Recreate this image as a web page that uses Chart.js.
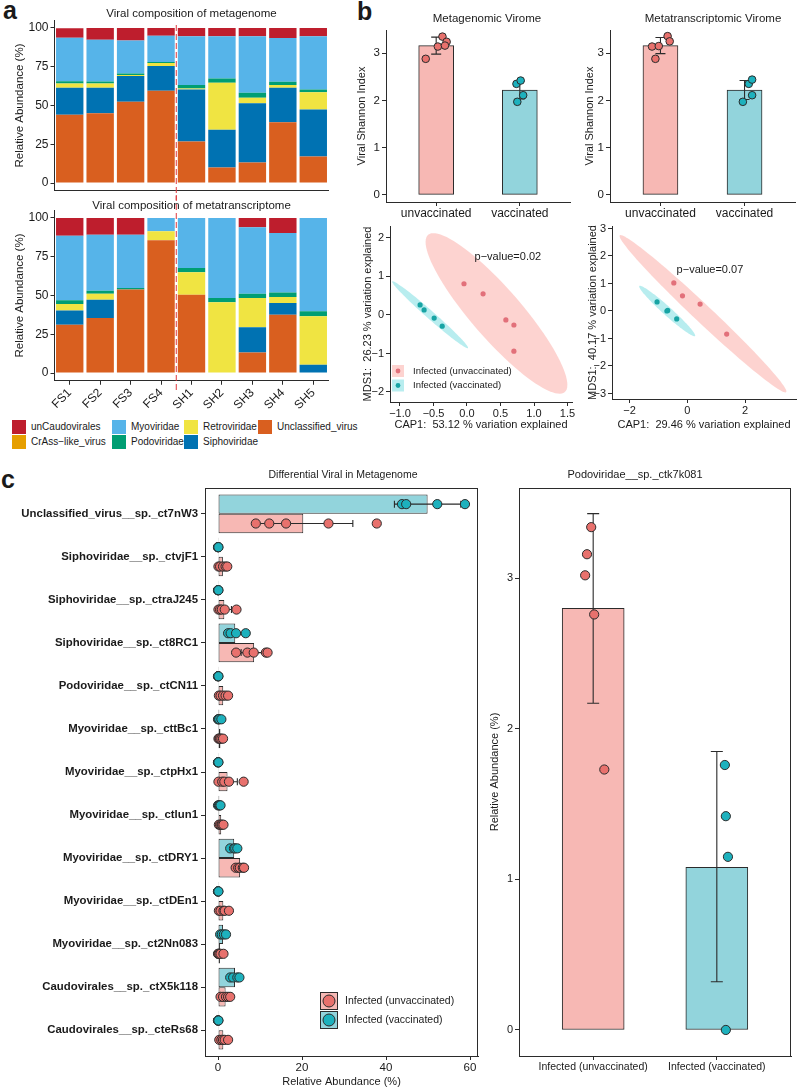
<!DOCTYPE html>
<html>
<head>
<meta charset="utf-8">
<title>Viral composition and diversity</title>
<script src="https://cdn.jsdelivr.net/npm/chart.js@4.4.0/dist/chart.umd.min.js"></script>
<style>
  html, body { margin: 0; padding: 0; background: #fff; }
  body { position: relative; width: 800px; height: 1089px; overflow: hidden;
         font-family: "Liberation Sans", Arial, sans-serif; color: #1a1a1a; }
  .tag { position: absolute; font-weight: bold; font-size: 25px; line-height: 1; }
  .sw { position: absolute; width: 14px; height: 14px; }
  .lt { position: absolute; font-size: 10px; line-height: 14px; white-space: nowrap; }
</style>
</head>
<body>
<div class="tag" style="left:3px;top:-2px">a</div>
<div class="tag" style="left:357px;top:-1px">b</div>
<div class="tag" style="left:1px;top:467px">c</div>
<div id="legendA"></div>
<script>
// ---------- panel a: viral composition (%) ----------
const samples = ['FS1', 'FS2', 'FS3', 'FS4', 'SH1', 'SH2', 'SH3', 'SH4', 'SH5'];
const familyNames = ['unCaudovirales', 'CrAss\u2212like_virus', 'Myoviridae', 'Podoviridae',
                     'Retroviridae', 'Siphoviridae', 'Unclassified_virus'];
const familyColors = ['#BE1E2D', '#E69F00', '#56B4E9', '#009E73', '#F0E442', '#0072B2', '#D95F1F'];

const mgUnCaudovirales = [6.2, 7.5, 8, 5, 5.4, 5.4, 5.4, 6.4, 5.4];
const mgCrAss          = [0, 0, 0, 0, 0, 0, 0, 0, 0];
const mgMyoviridae     = [28, 27, 21.3, 17, 31.4, 27.1, 36.4, 28.3, 34.2];
const mgPodoviridae    = [1.5, 1.3, 1.1, 0.6, 2.3, 2.8, 3.2, 2.1, 1.9];
const mgRetroviridae   = [2.7, 2.7, 0.6, 1.9, 0.5, 30.4, 3.6, 1.7, 11];
const mgSiphoviridae   = [17.5, 16.5, 16.5, 16, 33.6, 24.3, 38.1, 22.3, 30.4];
const mgUnclassified   = [44, 45, 52.5, 59.5, 26.8, 10, 13.3, 39.2, 17.1];

const mtUnCaudovirales = [11.4, 10.8, 10.8, 0, 0, 0, 6, 9.7, 0];
const mtCrAss          = [0, 0, 0, 0, 0, 0, 0, 0, 0];
const mtMyoviridae     = [41.7, 36.1, 34.4, 8.6, 32.3, 51.6, 42.8, 38.3, 60.2];
const mtPodoviridae    = [2.4, 1.9, 1, 0, 2.7, 2.8, 2.8, 3, 3.2];
const mtRetroviridae   = [4.1, 3.9, 0, 5.8, 14.5, 45.6, 18.9, 3.8, 31.2];
const mtSiphoviridae   = [9.2, 11.8, 0, 0, 0, 0, 16.2, 7.6, 5.4];
const mtUnclassified   = [31.2, 35.5, 53.8, 85.6, 50.5, 0, 13.3, 37.6, 0];
const pctTicks = [0, 25, 50, 75, 100];

// ---------- panel b: Shannon index ----------
const shannonGroups = ['unvaccinated', 'vaccinated'];
const mgShannonMean = [3.16, 2.22];
const mgShannonSd = [0.18, 0.19];
const mgShannonUnvacc = [2.88, 3.14, 3.35, 3.24, 3.16];
const mgShannonVacc = [2.35, 2.42, 2.11, 1.97];
const mgJitterUnvacc = [-0.125, 0.02, 0.075, 0.125, 0.105];
const mgJitterVacc = [-0.04, 0.01, 0.04, -0.03];

const mtShannonMean = [3.16, 2.22];
const mtShannonSd = [0.17, 0.2];
const mtShannonUnvacc = [3.14, 3.15, 3.36, 3.25, 2.88];
const mtShannonVacc = [2.35, 2.44, 2.11, 1.97];
const mtJitterUnvacc = [-0.1, -0.02, 0.085, 0.11, -0.06];
const mtJitterVacc = [0.05, 0.09, 0.09, -0.02];
const shannonTicks = [0, 1, 2, 3];

// ---------- panel b: CAP ordination ----------
const capMgUnvaccX = [-0.045, 0.24, 0.58, 0.70, 0.70];
const capMgUnvaccY = [0.81, 0.55, -0.13, -0.26, -0.94];
const capMgVaccX = [-0.70, -0.64, -0.49, -0.37];
const capMgVaccY = [0.26, 0.13, -0.08, -0.29];
const capMtUnvaccX = [-0.47, -0.17, 0.44, 1.36];
const capMtUnvaccY = [1.02, 0.55, 0.25, -0.84];
const capMtVaccX = [-1.05, -0.71, -0.68, -0.37];
const capMtVaccY = [0.33, 0.0, 0.02, -0.29];
// confidence ellipses: centre x, centre y, semi-axis a (x, y), semi-axis b (x, y)
const ellMgUnvacc = [0.44, 0.04, 1.02, -2.04, 0.28, 0.43];
const ellMgVacc = [-0.55, 0.005, 0.565, -0.865, 0.039, 0.078];
const ellMtUnvacc = [0.54, -0.1, 2.88, -2.85, 0.207, 0.24];
const ellMtVacc = [-0.70, 0.0, 0.965, -0.91, 0.10, 0.12];
const capMgXTicks = [-1, -0.5, 0, 0.5, 1, 1.5];
const capMgYTicks = [-2, -1, 0, 1, 2];
const capMtXTicks = [-2, 0, 2];
const capMtYTicks = [-3, -2, -1, 0, 1, 2, 3];

// ---------- panel c: differential viruses (%) ----------
const viralLabels = ['Unclassified_virus__sp._ct7nW3', 'Siphoviridae__sp._ctvjF1', 'Siphoviridae__sp._ctraJ245',
  'Siphoviridae__sp._ct8RC1', 'Podoviridae__sp._ctCN11', 'Myoviridae__sp._cttBc1', 'Myoviridae__sp._ctpHx1',
  'Myoviridae__sp._ctlun1', 'Myoviridae__sp._ctDRY1', 'Myoviridae__sp._ctDEn1', 'Myoviridae__sp._ct2Nn083',
  'Caudovirales__sp._ctX5k118', 'Caudovirales__sp._cteRs68'];
const vaccMean = [49.9, 0.05, 0.05, 4.1, 0.05, 0.3, 0.05, 0.3, 3.85, 0.05, 1.2, 4.05, 0.05];
const vaccErrLo = [42.0, 0, 0, 2.3, 0, 0, 0, 0.05, 3.1, 0, 0.6, 3.1, 0];
const vaccErrHi = [57.8, 0.1, 0.1, 5.9, 0.1, 0.7, 0.1, 0.55, 4.6, 0.1, 1.8, 5.0, 0.1];
const vaccPoints = [[43.8, 44.8, 52.2, 58.8], [0, 0, 0.05, 0.1], [0, 0, 0.05, 0.1], [2.4, 3.0, 4.3, 6.6],
  [0, 0, 0.05, 0.1], [0, 0.1, 0.3, 0.8], [0, 0, 0.05, 0.1], [0, 0.2, 0.4, 0.6], [2.9, 3.8, 4.1, 4.6],
  [0, 0, 0.05, 0.1], [0.5, 0.9, 1.4, 1.9], [2.9, 3.6, 4.6, 5.1], [0, 0, 0.05, 0.1]];
const unvaccMean = [20.3, 1.16, 1.5, 8.6, 1.24, 0.58, 2.26, 0.76, 5.26, 1.26, 0.46, 1.8, 1.26];
const unvaccErrLo = [8.5, 0.4, 0, 5.5, 0.4, 0.15, 0, 0.3, 4.4, 0.3, 0, 1.0, 0.4];
const unvaccErrHi = [32.1, 1.9, 3.2, 11.8, 2.1, 1.0, 4.6, 1.2, 6.1, 2.2, 1.0, 2.6, 2.1];
const unvaccPoints = [[9.0, 12.2, 16.2, 26.3, 37.8], [0.1, 0.5, 1.2, 1.8, 2.2], [0.1, 0.5, 0.9, 1.6, 4.4],
  [4.3, 7.0, 8.5, 11.4, 11.8], [0.2, 0.6, 1.2, 1.8, 2.4], [0.1, 0.3, 0.5, 0.8, 1.2], [0.1, 1.0, 1.5, 2.6, 6.1],
  [0.2, 0.5, 0.8, 1.0, 1.3], [4.2, 4.8, 5.2, 5.9, 6.2], [0.2, 0.6, 1.3, 1.6, 2.6], [0, 0.1, 0.3, 0.6, 1.3],
  [0.6, 1.2, 1.9, 2.4, 2.9], [0.3, 0.8, 1.2, 1.6, 2.4]];
const abundTicks = [0, 20, 40, 60];

const infectedGroups = ['Infected (unvaccinated)', 'Infected (vaccinated)'];
const podoMean = [2.80, 1.08];
const podoErrLo = [2.17, 0.32];
const podoErrHi = [3.43, 1.85];
const podoUnvacc = [3.34, 3.16, 3.02, 2.76, 1.73];
const podoVacc = [1.76, 1.42, 1.15, 0];
const podoJitterUnvacc = [-0.016, -0.05, -0.065, 0.008, 0.09];
const podoJitterVacc = [0.065, 0.073, 0.09, 0.073];
const podoTicks = [0, 1, 2, 3];

// ---------- styling ----------
const FONT = '"Liberation Sans", Arial, Helvetica, sans-serif';
const INK = '#1a1a1a';
const LINE = '#2b2b2b';
const pinkFill = '#F7B8B4', cyanFill = '#92D4DC';
const pinkDot = '#E8716D', cyanDot = '#1DB1BD';
const pinkPt = '#E2707A', cyanPt = '#17A4A4';
const pinkEll = 'rgba(248,118,109,0.32)', cyanEll = 'rgba(0,191,196,0.28)';
Chart.defaults.font.family = FONT;
Chart.defaults.color = INK;
const minus = s => String(s).replace('-', '\u2212');

// ---------- small plugins ----------
const panelTitle = {
  id: 'panelTitle',
  afterDraw(chart, args, o) {
    if (!o.text) return;
    const { ctx, chartArea } = chart;
    ctx.save();
    ctx.font = (o.size || 11.5) + 'px ' + FONT;
    ctx.fillStyle = INK;
    ctx.textAlign = 'center';
    ctx.textBaseline = 'middle';
    const x = o.x != null ? o.x : (chartArea.left + chartArea.right) / 2;
    ctx.fillText(o.text, x, o.y);
    ctx.restore();
  }
};

const sepLine = {
  id: 'sepLine',
  afterDraw(chart, args, o) {
    if (o.top == null) return;
    const xs = chart.scales.x, ctx = chart.ctx;
    const x = (xs.getPixelForValue(3) + xs.getPixelForValue(4)) / 2;
    ctx.save();
    ctx.strokeStyle = '#E0393E';
    ctx.lineWidth = 1;
    ctx.setLineDash([6, 3]);
    ctx.beginPath();
    ctx.moveTo(x, o.top);
    ctx.lineTo(x, o.bottom);
    ctx.stroke();
    ctx.restore();
  }
};

function drawErrorBars(chart, o) {
  if (!o || !o.items) return;
  const { ctx } = chart, xs = chart.scales.x, ys = chart.scales.y;
  ctx.save();
  ctx.strokeStyle = LINE;
  ctx.lineWidth = 1.1;
  o.items.forEach(e => {
    ctx.beginPath();
    if (o.horizontal) {
      const y = ys.getPixelForValue(e.pos), x1 = xs.getPixelForValue(e.lo), x2 = xs.getPixelForValue(e.hi);
      ctx.moveTo(x1, y); ctx.lineTo(x2, y);
      ctx.moveTo(x1, y - o.cap); ctx.lineTo(x1, y + o.cap);
      ctx.moveTo(x2, y - o.cap); ctx.lineTo(x2, y + o.cap);
    } else {
      const x = xs.getPixelForValue(e.pos), y1 = ys.getPixelForValue(e.lo), y2 = ys.getPixelForValue(e.hi);
      ctx.moveTo(x, y1); ctx.lineTo(x, y2);
      ctx.moveTo(x - o.cap, y1); ctx.lineTo(x + o.cap, y1);
      ctx.moveTo(x - o.cap, y2); ctx.lineTo(x + o.cap, y2);
    }
    ctx.stroke();
  });
  ctx.restore();
}

const errorBars = {
  id: 'errorBars',
  beforeDatasetsDraw(chart) { chart.$errDrawn = false; },
  beforeDatasetDraw(chart, args, o) {
    if (!chart.$errDrawn && args.meta.type === 'scatter') {
      drawErrorBars(chart, o);
      chart.$errDrawn = true;
    }
  },
  afterDatasetsDraw(chart, args, o) {
    if (!chart.$errDrawn) drawErrorBars(chart, o);
  }
};

const ellipses = {
  id: 'ellipses',
  beforeDatasetsDraw(chart, args, o) {
    if (!o.items) return;
    const { ctx, chartArea: ca } = chart, xs = chart.scales.x, ys = chart.scales.y;
    ctx.save();
    ctx.beginPath();
    ctx.rect(ca.left, ca.top, ca.width, ca.height);
    ctx.clip();
    o.items.forEach(it => {
      const e = it.e;
      ctx.beginPath();
      for (let i = 0; i <= 96; i++) {
        const t = i / 96 * Math.PI * 2;
        const vx = e[0] + e[2] * Math.cos(t) + e[4] * Math.sin(t);
        const vy = e[1] + e[3] * Math.cos(t) + e[5] * Math.sin(t);
        const px = xs.getPixelForValue(vx), py = ys.getPixelForValue(vy);
        if (i === 0) ctx.moveTo(px, py); else ctx.lineTo(px, py);
      }
      ctx.closePath();
      ctx.fillStyle = it.color;
      ctx.fill();
    });
    ctx.restore();
  }
};

const notes = {
  id: 'notes',
  afterDatasetsDraw(chart, args, o) {
    if (!o.items) return;
    const { ctx } = chart, xs = chart.scales.x, ys = chart.scales.y;
    ctx.save();
    ctx.font = '11px ' + FONT;
    ctx.fillStyle = INK;
    ctx.textAlign = 'center';
    ctx.textBaseline = 'middle';
    o.items.forEach(n => ctx.fillText(n.text, xs.getPixelForValue(n.x), ys.getPixelForValue(n.y)));
    ctx.restore();
  }
};

const keyLegend = {
  id: 'keyLegend',
  afterDraw(chart, args, o) {
    if (!o.items) return;
    const ctx = chart.ctx;
    ctx.save();
    o.items.forEach((it, i) => {
      const y = o.y + i * o.step;
      ctx.fillStyle = it.fill;
      ctx.fillRect(o.x, y - o.size / 2, o.size, o.size);
      if (o.border) {
        ctx.strokeStyle = LINE; ctx.lineWidth = 1;
        ctx.strokeRect(o.x + 0.5, y - o.size / 2 + 0.5, o.size - 1, o.size - 1);
      }
      ctx.beginPath();
      ctx.arc(o.x + o.size / 2, y, o.r, 0, Math.PI * 2);
      ctx.fillStyle = it.dot;
      ctx.fill();
      if (o.border) { ctx.strokeStyle = LINE; ctx.stroke(); }
      ctx.fillStyle = INK;
      ctx.font = o.font + 'px ' + FONT;
      ctx.textAlign = 'left';
      ctx.textBaseline = 'middle';
      ctx.fillText(it.text, o.x + o.size + o.gap, y);
    });
    ctx.restore();
  }
};

const boxFrame = {
  id: 'boxFrame',
  afterDraw(chart, args, o) {
    if (!o.on) return;
    const { ctx, chartArea: ca } = chart;
    ctx.save();
    ctx.strokeStyle = LINE;
    ctx.lineWidth = 1;
    ctx.strokeRect(Math.round(ca.left) + 0.5, Math.round(ca.top) + 0.5,
                   Math.round(ca.width) - 1, Math.round(ca.height));
    ctx.restore();
  }
};

const allPlugins = [panelTitle, sepLine, errorBars, ellipses, notes, keyLegend, boxFrame];

// ---------- helpers ----------
function place(left, top, w, h) {
  const c = document.createElement('canvas');
  c.width = w; c.height = h;
  c.style.cssText = `position:absolute;left:${left}px;top:${top}px;width:${w}px;height:${h}px;`;
  document.body.appendChild(c);
  return c;
}

function axis(o) {
  const s = {
    type: o.type || 'linear',
    reverse: !!o.reverse,
    stacked: !!o.stacked,
    afterFit: sc => { if (sc.isHorizontal()) sc.height = o.fit; else sc.width = o.fit; },
    border: { display: true, color: LINE, width: 1 },
    grid: { display: o.ticks !== false, drawOnChartArea: false, drawTicks: true, tickLength: 4,
            tickColor: LINE, offset: false },
    ticks: { display: o.ticks !== false, color: INK, autoSkip: false,
             font: { family: FONT, size: o.font || 11, weight: o.bold ? 'bold' : 'normal' },
             padding: o.pad != null ? o.pad : 2,
             maxRotation: o.rot || 0, minRotation: o.rot || 0 }
  };
  // linear scales must not get the bar chart's half-step offset
  if (s.type === 'linear') s.offset = false;
  if (o.min != null) s.min = o.min;
  if (o.max != null) s.max = o.max;
  if (o.values) s.afterBuildTicks = sc => { sc.ticks = o.values.map(v => ({ value: v })); };
  if (o.fmt) s.ticks.callback = o.fmt;
  if (o.title) s.title = { display: true, text: o.title, color: INK,
                           font: { family: FONT, size: o.titleSize || 11 }, padding: o.titlePad };
  return s;
}

function baseOptions(padding, plugins, scales) {
  return {
    responsive: false, animation: false, events: [],
    layout: { padding },
    plugins: Object.assign({ legend: { display: false }, tooltip: { enabled: false } }, plugins),
    scales
  };
}

// ---------- panel a ----------
function compositionChart(canvas, series, o) {
  const datasets = familyNames.map((name, i) => ({
    label: name, data: series[i], backgroundColor: familyColors[i],
    borderWidth: 0, barPercentage: 0.9, categoryPercentage: 1
  })).reverse();
  return new Chart(canvas, {
    type: 'bar',
    data: { labels: samples, datasets },
    options: baseOptions({ left: 0, top: o.padTop, right: 11.5, bottom: 0 },
      { panelTitle: { text: o.title, y: o.titleY }, sepLine: { top: o.dashTop, bottom: o.dashBottom } },
      {
        x: axis({ type: 'category', stacked: true, fit: o.xFit, ticks: o.showX, font: 12, rot: 45, pad: 1 }),
        y: axis({ stacked: true, min: -5, max: 105, values: pctTicks, fit: 54.5, font: 12,
                  title: 'Relative Abundance (%)', titleSize: 11.5, titlePad: { top: 13, bottom: 0 } })
      }),
    plugins: allPlugins
  });
}

compositionChart(place(0, 0, 340, 200),
  [mgUnCaudovirales, mgCrAss, mgMyoviridae, mgPodoviridae, mgRetroviridae, mgSiphoviridae, mgUnclassified],
  { padTop: 20.25, xFit: 9.25, showX: false, title: 'Viral composition of metagenome', titleY: 14,
    dashTop: 25, dashBottom: 200 });

compositionChart(place(0, 195, 340, 220),
  [mtUnCaudovirales, mtCrAss, mtMyoviridae, mtPodoviridae, mtRetroviridae, mtSiphoviridae, mtUnclassified],
  { padTop: 15.25, xFit: 34.25, showX: true, title: 'Viral composition of metatranscriptome', titleY: 11,
    dashTop: 0, dashBottom: 195 });

// legend for panel a
const legendX = [12, 112, 184, 258];
const legendY = [420, 435];
const legendA = document.getElementById('legendA');
familyNames.forEach((name, i) => {
  const col = Math.floor(i / 2), row = i % 2;
  const sw = document.createElement('div');
  sw.className = 'sw';
  sw.style.cssText = `left:${legendX[col]}px;top:${legendY[row]}px;background:${familyColors[i]};`;
  const lt = document.createElement('div');
  lt.className = 'lt';
  lt.style.cssText = `left:${legendX[col] + 19}px;top:${legendY[row]}px;`;
  lt.textContent = name;
  legendA.appendChild(sw);
  legendA.appendChild(lt);
});

// ---------- panel b: Shannon bars ----------
function shannonChart(canvas, o) {
  return new Chart(canvas, {
    type: 'bar',
    data: {
      datasets: [
        { type: 'bar', data: o.mean.map((m, i) => ({ x: i + 1, y: m })), backgroundColor: [pinkFill, cyanFill],
          borderColor: LINE, borderWidth: 1, borderSkipped: false, barThickness: 35, order: 2 },
        { type: 'scatter', data: o.unvacc.map((v, i) => ({ x: 1 + o.jitU[i], y: v })), backgroundColor: pinkDot,
          borderColor: LINE, borderWidth: 1, pointRadius: 3.8, order: 0 },
        { type: 'scatter', data: o.vacc.map((v, i) => ({ x: 2 + o.jitV[i], y: v })), backgroundColor: cyanDot,
          borderColor: LINE, borderWidth: 1, pointRadius: 3.8, order: 0 }
      ]
    },
    options: baseOptions({ left: 0, top: 30, right: o.padRight, bottom: 0 },
      {
        panelTitle: { text: o.title, x: o.titleX, y: 19, size: 11.5 },
        errorBars: { cap: 5, items: o.mean.map((m, i) => ({ pos: i + 1, lo: m - o.sd[i], hi: m + o.sd[i] })) }
      },
      {
        x: axis({ min: 0.4, max: 2.6, values: [1, 2], fmt: v => shannonGroups[v - 1], fit: 23, font: 12, pad: 0 }),
        y: axis({ min: -0.15, max: 3.49, values: shannonTicks, fit: o.yFit, font: 11.5,
                  title: 'Viral Shannon Index', titleSize: 11, titlePad: { top: o.titleTop, bottom: 0 } })
      }),
    plugins: allPlugins
  });
}

shannonChart(place(345, 0, 230, 225), {
  mean: mgShannonMean, sd: mgShannonSd, unvacc: mgShannonUnvacc, vacc: mgShannonVacc,
  jitU: mgJitterUnvacc, jitV: mgJitterVacc, title: 'Metagenomic Virome', titleX: 142,
  yFit: 41, padRight: 0, titleTop: 10.4
});
shannonChart(place(575, 0, 225, 225), {
  mean: mtShannonMean, sd: mtShannonSd, unvacc: mtShannonUnvacc, vacc: mtShannonVacc,
  jitU: mtJitterUnvacc, jitV: mtJitterVacc, title: 'Metatranscriptomic Virome', titleX: 138,
  yFit: 35, padRight: 0, titleTop: 8.4
});

// ---------- panel b: CAP ordination ----------
function capChart(canvas, o) {
  return new Chart(canvas, {
    type: 'scatter',
    data: {
      datasets: [
        { data: o.ux.map((x, i) => ({ x, y: o.uy[i] })), backgroundColor: pinkPt, borderWidth: 0, pointRadius: 2.6 },
        { data: o.vx.map((x, i) => ({ x, y: o.vy[i] })), backgroundColor: cyanPt, borderWidth: 0, pointRadius: 2.6 }
      ]
    },
    options: baseOptions({ left: 0, top: 11, right: o.padRight, bottom: 0 },
      {
        ellipses: { items: [{ e: o.eu, color: pinkEll }, { e: o.ev, color: cyanEll }] },
        notes: { items: [o.note] },
        keyLegend: o.legend || {}
      },
      {
        x: axis({ min: o.xmin, max: o.xmax, values: o.xticks, fmt: o.xfmt, fit: o.xFit, font: 11, pad: 1,
                  title: o.xtitle, titleSize: 11, titlePad: { top: 0, bottom: 3.4 } }),
        y: axis({ min: o.ymin, max: o.ymax, values: o.yticks, fmt: v => minus(v), fit: o.yFit, font: 11,
                  title: o.ytitle, titleSize: 11, titlePad: { top: o.yTitleTop, bottom: 0 } })
      }),
    plugins: allPlugins
  });
}

capChart(place(345, 215, 240, 220), {
  ux: capMgUnvaccX, uy: capMgUnvaccY, vx: capMgVaccX, vy: capMgVaccY, eu: ellMgUnvacc, ev: ellMgVacc,
  xmin: -1.149, xmax: 1.567, ymin: -2.26, ymax: 2.31, xticks: capMgXTicks, yticks: capMgYTicks,
  xfmt: v => minus(v.toFixed(1)), xFit: 33, yFit: 45, padRight: 13, yTitleTop: 16.4,
  xtitle: 'CAP1:  53.12 % variation explained', ytitle: 'MDS1:  26.23 % variation explained',
  note: { x: 0.61, y: 1.5, text: 'p\u2212value=0.02' },
  legend: { x: 47, y: 156, step: 14.5, size: 12, r: 2.4, gap: 9, font: 9.5, border: false,
            items: [{ fill: pinkEll, dot: pinkPt, text: 'Infected (unvaccinated)' },
                    { fill: cyanEll, dot: cyanPt, text: 'Infected (vaccinated)' }] }
});
capChart(place(575, 215, 225, 220), {
  ux: capMtUnvaccX, uy: capMtUnvaccY, vx: capMtVaccX, vy: capMtVaccY, eu: ellMtUnvacc, ev: ellMtVacc,
  xmin: -2.61, xmax: 3.76, ymin: -3.2, ymax: 3.09, xticks: capMtXTicks, yticks: capMtYTicks,
  xfmt: v => minus(v), xFit: 36, yFit: 37, padRight: 0, yTitleTop: 11.4,
  xtitle: 'CAP1:  29.46 % variation explained', ytitle: 'MDS1:  40.17 % variation explained',
  note: { x: 0.78, y: 1.49, text: 'p\u2212value=0.07' }
});

// ---------- panel c: differential viruses ----------
const dodge = 0.225;
new Chart(place(0, 460, 485, 629), {
  type: 'bar',
  data: {
    datasets: [
      { type: 'bar', data: vaccMean.map((v, i) => ({ x: v, y: i + 1 })), backgroundColor: cyanFill,
        borderColor: LINE, borderWidth: 1, borderSkipped: false, categoryPercentage: 0.9, barPercentage: 1, order: 2 },
      { type: 'bar', data: unvaccMean.map((v, i) => ({ x: v, y: i + 1 })), backgroundColor: pinkFill,
        borderColor: LINE, borderWidth: 1, borderSkipped: false, categoryPercentage: 0.9, barPercentage: 1, order: 2 },
      { type: 'scatter', data: vaccPoints.flatMap((pts, i) => pts.map(v => ({ x: v, y: i + 1 - dodge }))),
        backgroundColor: cyanDot, borderColor: LINE, borderWidth: 1, pointRadius: 4.6, order: 0 },
      { type: 'scatter', data: unvaccPoints.flatMap((pts, i) => pts.map(v => ({ x: v, y: i + 1 + dodge }))),
        backgroundColor: pinkDot, borderColor: LINE, borderWidth: 1, pointRadius: 4.6, order: 0 }
    ]
  },
  options: Object.assign(baseOptions({ left: 0, top: 28, right: 7, bottom: 0 },
    {
      panelTitle: { text: 'Differential Viral in Metagenome', x: 343, y: 15, size: 10.5 },
      errorBars: { horizontal: true, cap: 3.5,
        items: vaccMean.map((m, i) => ({ pos: i + 1 - dodge, lo: vaccErrLo[i], hi: vaccErrHi[i] }))
          .concat(unvaccMean.map((m, i) => ({ pos: i + 1 + dodge, lo: unvaccErrLo[i], hi: unvaccErrHi[i] }))) },
      boxFrame: { on: true },
      keyLegend: { x: 320, y: 541, step: 19, size: 18, r: 6, gap: 7, font: 10.5, border: true,
                   items: [{ fill: pinkFill, dot: pinkDot, text: 'Infected (unvaccinated)' },
                           { fill: cyanFill, dot: cyanDot, text: 'Infected (vaccinated)' }] }
    },
    {
      x: axis({ min: -3.1, max: 61.9, values: abundTicks, fit: 33, font: 11.5, pad: 1,
                title: 'Relative Abundance (%)', titleSize: 11, titlePad: { top: 0, bottom: 0.4 } }),
      y: axis({ min: 0.4, max: 13.6, reverse: true, values: viralLabels.map((l, i) => i + 1),
                fmt: v => viralLabels[v - 1], fit: 205, font: 11.4, bold: true, pad: 3 })
    }), { indexAxis: 'y' }),
  plugins: allPlugins
});

new Chart(place(485, 460, 315, 629), {
  type: 'bar',
  data: {
    datasets: [
      { type: 'bar', data: podoMean.map((m, i) => ({ x: i + 1, y: m })), backgroundColor: [pinkFill, cyanFill],
        borderColor: LINE, borderWidth: 1, borderSkipped: false, barThickness: 62, order: 2 },
      { type: 'scatter', data: podoUnvacc.map((v, i) => ({ x: 1 + podoJitterUnvacc[i], y: v })),
        backgroundColor: pinkDot, borderColor: LINE, borderWidth: 1, pointRadius: 4.6, order: 0 },
      { type: 'scatter', data: podoVacc.map((v, i) => ({ x: 2 + podoJitterVacc[i], y: v })),
        backgroundColor: cyanDot, borderColor: LINE, borderWidth: 1, pointRadius: 4.6, order: 0 }
    ]
  },
  options: baseOptions({ left: 0, top: 28, right: 9, bottom: 0 },
    {
      panelTitle: { text: 'Podoviridae__sp._ctk7k081', x: 150, y: 15, size: 11 },
      errorBars: { cap: 6, items: podoMean.map((m, i) => ({ pos: i + 1, lo: podoErrLo[i], hi: podoErrHi[i] })) },
      boxFrame: { on: true }
    },
    {
      x: axis({ min: 0.4, max: 2.6, values: [1, 2], fmt: v => infectedGroups[v - 1], fit: 33, font: 10.5, pad: 1 }),
      y: axis({ min: -0.173, max: 3.6, values: podoTicks, fit: 34, font: 11,
                title: 'Relative Abundance (%)', titleSize: 11, titlePad: { top: 3.4, bottom: 0 } })
    }),
  plugins: allPlugins
});
</script>
</body>
</html>
